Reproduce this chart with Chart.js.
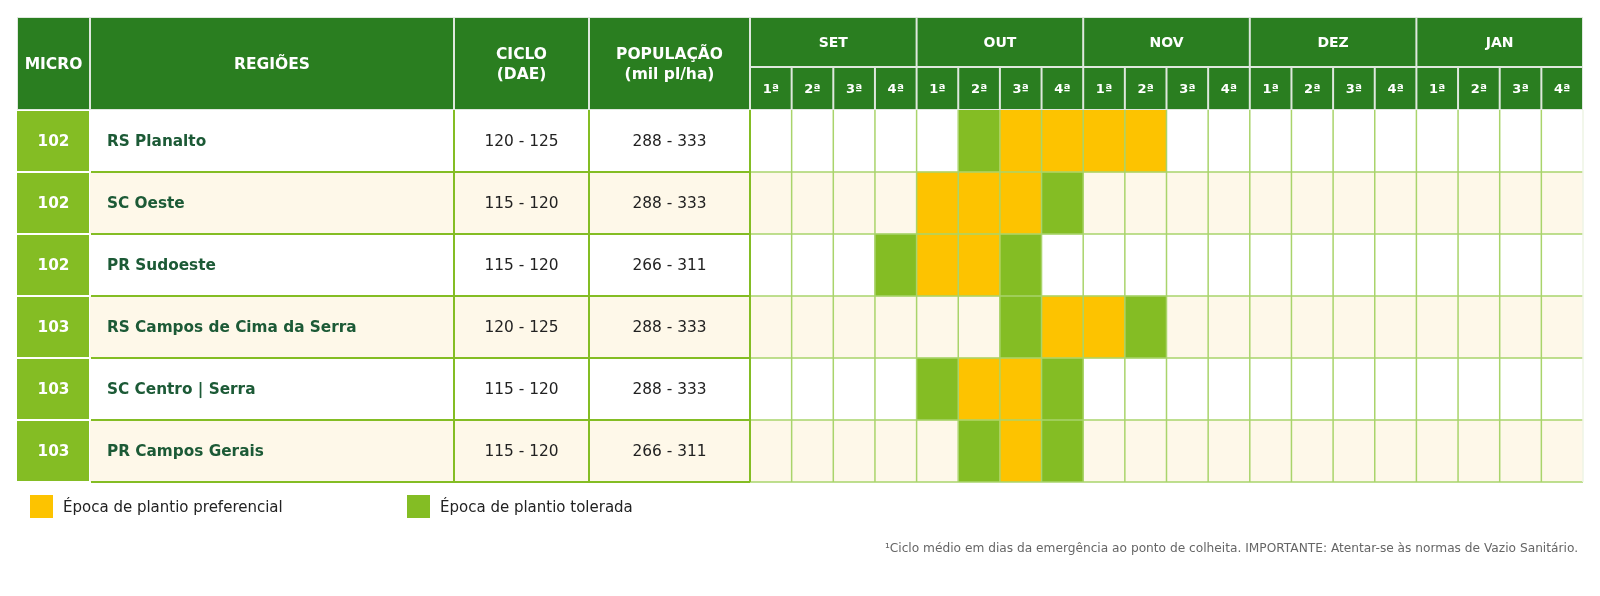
<!DOCTYPE html>
<html>
<head>
<meta charset="utf-8">
<script src="https://cdn.jsdelivr.net/npm/chart.js@4"></script>
<style>
  html, body { margin: 0; padding: 0; background: #fff; }
  #wrap { width: 1600px; height: 596px; }
</style>
</head>
<body>
<div id="wrap"><canvas id="plantioChart" width="1600" height="596"></canvas></div>
<script>
const micro = ['102', '102', '102', '103', '103', '103'];
const regioes = ['RS Planalto', 'SC Oeste', 'PR Sudoeste', 'RS Campos de Cima da Serra', 'SC Centro | Serra', 'PR Campos Gerais'];
const ciclo = ['120 - 125', '115 - 120', '115 - 120', '120 - 125', '115 - 120', '115 - 120'];
const populacao = ['288 - 333', '288 - 333', '266 - 311', '288 - 333', '288 - 333', '266 - 311'];
const meses = ['SET', 'OUT', 'NOV', 'DEZ', 'JAN'];
const semanas = ['1ª', '2ª', '3ª', '4ª'];
// week index (0 = SET 1ª ... 19 = JAN 4ª) of every coloured cell, per region
const preferencial = [[6, 7, 8, 9], [4, 5, 6], [4, 5], [7, 8], [5, 6], [6]];
const tolerada = [[5], [7], [3, 6], [6, 9], [4, 7], [5, 7]];
const legendLabels = ['Época de plantio preferencial', 'Época de plantio tolerada'];
const nota = '¹Ciclo médio em dias da emergência ao ponto de colheita. IMPORTANTE: Atentar-se às normas de Vazio Sanitário.';

const FONT = '"DejaVu Sans", sans-serif';
const darkGreen = '#2a7e20';
const lightGreen = '#84bd24';
const yellow = '#fdc300';
const cream = '#fef8e9';
const headLine = '#dfe8de';

// left part of the table (columns before the weeks)
const colEdges = [17, 90, 454, 589, 750];
const headTop = 17, monthBottom = 67, headBottom = 110;

function cells(list) {
  const out = [];
  list.forEach((weeks, i) => {
    weeks.forEach(w => out.push({ x: [w, w + 1], y: regioes[i] }));
  });
  return out;
}

const tablePlugin = {
  id: 'tablePlugin',
  beforeDatasetsDraw(chart) {
    const { ctx, chartArea, scales } = chart;
    const x = scales.x, y = scales.y;
    const band = (chartArea.bottom - chartArea.top) / regioes.length;
    ctx.save();

    // header
    ctx.fillStyle = headLine;
    ctx.fillRect(colEdges[0], headTop, chartArea.right - colEdges[0], headBottom - headTop);
    ctx.fillStyle = darkGreen;
    for (let c = 0; c < 4; c++) {
      ctx.fillRect(colEdges[c] + 1, headTop + 1, colEdges[c + 1] - colEdges[c] - 2, headBottom - headTop - 2);
    }
    meses.forEach((m, k) => {
      const l = x.getPixelForValue(k * 4), r = x.getPixelForValue(k * 4 + 4);
      ctx.fillRect(l + 1, headTop + 1, r - l - 2, monthBottom - headTop - 2);
      for (let s = 0; s < 4; s++) {
        const wl = x.getPixelForValue(k * 4 + s), wr = x.getPixelForValue(k * 4 + s + 1);
        ctx.fillRect(wl + 1, monthBottom + 1, wr - wl - 2, headBottom - monthBottom - 2);
      }
    });

    // rows
    regioes.forEach((r, i) => {
      const top = y.getPixelForValue(i) - band / 2;
      ctx.fillStyle = i % 2 ? cream : '#ffffff';
      ctx.fillRect(colEdges[1], top, chartArea.right - colEdges[1], band);
      ctx.fillStyle = lightGreen;
      ctx.fillRect(colEdges[0], top + 1, colEdges[1] - colEdges[0] - 1, band - 2);
    });
    ctx.restore();
  },
  afterDatasetsDraw(chart) {
    const { ctx, chartArea, scales } = chart;
    const x = scales.x, y = scales.y;
    const band = (chartArea.bottom - chartArea.top) / regioes.length;
    ctx.save();

    // week grid
    ctx.strokeStyle = '#a9d46b';
    ctx.lineWidth = 1.5;
    for (let w = 1; w < 20; w++) {
      const px = x.getPixelForValue(w);
      ctx.beginPath();
      ctx.moveTo(px, chartArea.top);
      ctx.lineTo(px, chartArea.bottom);
      ctx.stroke();
    }
    for (let i = 1; i <= regioes.length; i++) {
      const py = chartArea.top + i * band;
      ctx.beginPath();
      ctx.moveTo(chartArea.left, py);
      ctx.lineTo(chartArea.right, py);
      ctx.stroke();
    }
    ctx.strokeStyle = '#eef5e4';
    ctx.beginPath();
    ctx.moveTo(chartArea.right, chartArea.top);
    ctx.lineTo(chartArea.right, chartArea.bottom);
    ctx.stroke();

    // left columns grid
    ctx.strokeStyle = lightGreen;
    ctx.lineWidth = 2;
    for (let i = 1; i <= regioes.length; i++) {
      const py = chartArea.top + i * band;
      ctx.beginPath();
      ctx.moveTo(colEdges[1] + 1, py);
      ctx.lineTo(colEdges[4], py);
      ctx.stroke();
    }
    [colEdges[2], colEdges[3], colEdges[4]].forEach(px => {
      ctx.beginPath();
      ctx.moveTo(px, chartArea.top);
      ctx.lineTo(px, chartArea.bottom);
      ctx.stroke();
    });

    // header text
    ctx.fillStyle = '#ffffff';
    ctx.textAlign = 'center';
    ctx.textBaseline = 'middle';
    ctx.font = 'bold 15.5px ' + FONT;
    const headMid = (headTop + headBottom) / 2 + 1;
    ctx.fillText('MICRO', (colEdges[0] + colEdges[1]) / 2, headMid);
    ctx.fillText('REGIÕES', (colEdges[1] + colEdges[2]) / 2, headMid);
    ctx.fillText('CICLO', (colEdges[2] + colEdges[3]) / 2, headMid - 10);
    ctx.fillText('(DAE)', (colEdges[2] + colEdges[3]) / 2, headMid + 10);
    ctx.fillText('POPULAÇÃO', (colEdges[3] + colEdges[4]) / 2, headMid - 10);
    ctx.fillText('(mil pl/ha)', (colEdges[3] + colEdges[4]) / 2, headMid + 10);
    ctx.font = 'bold 14px ' + FONT;
    meses.forEach((m, k) => {
      ctx.fillText(m, x.getPixelForValue(k * 4 + 2), (headTop + monthBottom) / 2 + 1);
    });
    ctx.font = 'bold 13px ' + FONT;
    for (let w = 0; w < 20; w++) {
      ctx.fillText(semanas[w % 4], x.getPixelForValue(w + 0.5), (monthBottom + headBottom) / 2 + 1);
    }

    // row text
    regioes.forEach((r, i) => {
      const cy = y.getPixelForValue(i) + 1;
      ctx.textAlign = 'center';
      ctx.font = 'bold 15.3px ' + FONT;
      ctx.fillStyle = '#ffffff';
      ctx.fillText(micro[i], (colEdges[0] + colEdges[1]) / 2, cy);
      ctx.textAlign = 'left';
      ctx.fillStyle = '#1c5a36';
      ctx.fillText(r, colEdges[1] + 17, cy);
      ctx.textAlign = 'center';
      ctx.font = '15.4px ' + FONT;
      ctx.fillStyle = '#222222';
      ctx.fillText(ciclo[i], (colEdges[2] + colEdges[3]) / 2, cy);
      ctx.fillText(populacao[i], (colEdges[3] + colEdges[4]) / 2, cy);
    });

    // legend
    const legX = [30, 407];
    chart.data.datasets.forEach((ds, k) => {
      ctx.fillStyle = ds.backgroundColor;
      ctx.fillRect(legX[k], 495, 23, 23);
      ctx.fillStyle = '#222222';
      ctx.textAlign = 'left';
      ctx.font = '15px ' + FONT;
      ctx.fillText(ds.label, legX[k] + 33, 508);
    });

    // footnote
    ctx.fillStyle = '#666666';
    ctx.textAlign = 'right';
    ctx.font = '12.2px ' + FONT;
    ctx.fillText(nota, 1578, 549);
    ctx.restore();
  }
};

new Chart('plantioChart', {
  type: 'bar',
  data: {
    labels: regioes,
    datasets: [
      { label: legendLabels[0], data: cells(preferencial), backgroundColor: yellow, grouped: false, borderWidth: 0 },
      { label: legendLabels[1], data: cells(tolerada), backgroundColor: lightGreen, grouped: false, borderWidth: 0 }
    ]
  },
  options: {
    indexAxis: 'y',
    responsive: false,
    animation: false,
    devicePixelRatio: 1,
    barPercentage: 1,
    categoryPercentage: 1,
    layout: { padding: { left: 750, right: 17, top: 110, bottom: 114 } },
    scales: {
      x: { type: 'linear', min: 0, max: 20, display: false },
      y: { type: 'category', labels: regioes, offset: true, display: false }
    },
    plugins: {
      legend: { display: false },
      tooltip: { enabled: false }
    }
  },
  plugins: [tablePlugin]
});
</script>
</body>
</html>
